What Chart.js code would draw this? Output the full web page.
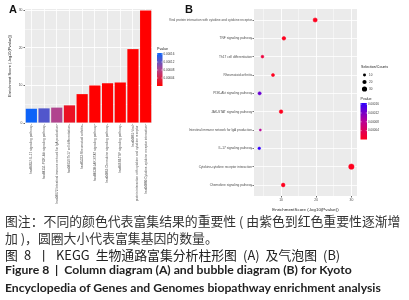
<!DOCTYPE html>
<html>
<head>
<meta charset="utf-8">
<script src="https://cdn.jsdelivr.net/npm/chart.js@4.4.1/dist/chart.umd.min.js"></script>
<style>
  body { margin: 0; background: #fff; width: 409px; height: 300px; overflow: hidden; position: relative; }
  canvas { position: absolute; top: 0; }
  #barChart { left: 0; }
  #bubbleChart { left: 165px; }
  .tag { position: absolute; font: bold 11px "Liberation Sans", Arial, sans-serif; color: #111; }
  .cap { position: absolute; left: 5px; white-space: nowrap; line-height: 17px; }
  .cn { font: 12.85px "Noto Sans CJK SC", sans-serif; color: #333; }
  .en { font: bold 12.2px Lato, "Noto Sans", sans-serif; color: #222; }
</style>
</head>
<body>
<canvas id="barChart" width="200" height="212"></canvas>
<canvas id="bubbleChart" width="244" height="212"></canvas>
<div class="tag" style="left:9px; top:3px;">A</div>
<div class="tag" style="left:185px; top:3px;">B</div>
<div class="cap cn" style="top:211px;">图注：不同的颜色代表富集结果的重要性 ( 由紫色到红色重要性逐渐增</div>
<div class="cap cn" style="top:228px;">加 )，圆圈大小代表富集基因的数量。</div>
<div class="cap cn" style="top:245px; color:#222; word-spacing:3.2px;">图 8 丨 KEGG 生物通路富集分析柱形图 (A) 及气泡图 (B)</div>
<div class="cap en" style="top:262px;">Figure 8 &nbsp;| &nbsp;Column diagram (A) and bubble diagram (B) for Kyoto</div>
<div class="cap en" style="top:280px;">Encyclopedia of Genes and Genomes biopathway enrichment analysis</div>
<script>
// 通路数据 (按柱形图顺序, 从小到大)
const keggIds = ['hsa04657', 'hsa04151', 'hsa04672', 'hsa04659', 'hsa05323',
    'hsa04630', 'hsa04062', 'hsa04668', 'hsa04061', 'hsa04060'];
const pathways = ['IL-17 signaling pathway', 'PI3K-Akt signaling pathway',
    'Intestinal immune network for IgA production', 'Th17 cell differentiation',
    'Rheumatoid arthritis', 'JAK-STAT signaling pathway', 'Chemokine signaling pathway',
    'TNF signaling pathway', 'Viral protein interaction with cytokine and cytokine receptor',
    'Cytokine-cytokine receptor interaction'];
const scores = [3.8, 3.9, 4.1, 4.7, 7.7, 10.0, 10.6, 10.8, 19.7, 30.0];
const counts = [8, 12, 5, 9, 11, 15, 16, 15, 20, 33];
// 气泡图 y 轴顺序 (从上到下)
const bubbleTerms = ['Viral protein interaction with cytokine and cytokine receptor',
    'TNF signaling pathway', 'Th17 cell differentiation', 'Rheumatoid arthritis',
    'PI3K-Akt signaling pathway', 'JAK-STAT signaling pathway',
    'Intestinal immune network for IgA production', 'IL-17 signaling pathway',
    'Cytokine-cytokine receptor interaction', 'Chemokine signaling pathway'];
const pLegendTicks = [0.00016, 0.00012, 0.00008, 0.00004];
const countLegend = [10, 20, 30];

const FONT = '"Liberation Sans", Arial, sans-serif';
const pMax = 0.00016;

const mix = (stops, t) => {
    t = Math.max(0, Math.min(1, t));
    for (let i = 1; i < stops.length; i++) {
        if (t <= stops[i][0]) {
            const [t0, c0] = stops[i - 1], [t1, c1] = stops[i];
            const u = (t - t0) / (t1 - t0);
            return `rgb(${c0.map((v, k) => Math.round(v + (c1[k] - v) * u)).join(',')})`;
        }
    }
    return `rgb(${stops[stops.length - 1][1].join(',')})`;
};
const stopsA = [[0, [255, 0, 0]], [0.5, [176, 68, 143]], [1, [10, 100, 250]]];
const stopsB = [[0, [255, 0, 30]], [0.5, [185, 0, 150]], [1, [45, 0, 255]]];
const pOf = s => Math.pow(10, -s);

// 灰色面板背景
const panelBg = {
    id: 'panelBg',
    beforeDraw(chart) {
        const {ctx, chartArea: a} = chart;
        ctx.save();
        ctx.fillStyle = '#ebebeb';
        ctx.fillRect(a.left, a.top, a.right - a.left, a.bottom - a.top);
        ctx.restore();
    }
};

const drawColorbar = (ctx, stops, x, top, w, h, title, titleY) => {
    const g = ctx.createLinearGradient(0, top, 0, top + h);
    for (let i = 0; i <= 10; i++) g.addColorStop(i / 10, mix(stops, 1 - i / 10));
    ctx.fillStyle = g;
    ctx.fillRect(x, top, w, h);
    ctx.font = `3.6px ${FONT}`;
    ctx.fillStyle = '#222';
    ctx.textBaseline = 'middle';
    ctx.fillText(title, x, titleY);
    ctx.font = `3px ${FONT}`;
    pLegendTicks.forEach(p => {
        const y = top + h * (1 - p / 0.000165);
        ctx.strokeStyle = '#fff';
        ctx.lineWidth = 0.5;
        ctx.beginPath();
        ctx.moveTo(x, y); ctx.lineTo(x + 1.2, y);
        ctx.moveTo(x + w - 1.2, y); ctx.lineTo(x + w, y);
        ctx.stroke();
        ctx.fillStyle = '#333';
        ctx.fillText(p.toFixed(5), x + w + 1, y);
    });
};

const legendA = {
    id: 'legendA',
    afterDraw(chart) {
        const ctx = chart.ctx;
        ctx.save();
        drawColorbar(ctx, stopsA, 157, 53, 5.5, 33, 'Pvalue', 49);
        ctx.restore();
    }
};

const legendB = {
    id: 'legendB',
    afterDraw(chart) {
        const ctx = chart.ctx;
        ctx.save();
        const x0 = 196;
        ctx.font = `3.6px ${FONT}`;
        ctx.fillStyle = '#222';
        ctx.textBaseline = 'middle';
        ctx.fillText('Selection/Counts', x0, 67);
        countLegend.forEach((c, i) => {
            const y = 75 + i * 7;
            ctx.fillStyle = '#000';
            ctx.beginPath();
            ctx.arc(x0 + 3.5, y, 0.47 * Math.sqrt(c), 0, Math.PI * 2);
            ctx.fill();
            ctx.font = `3px ${FONT}`;
            ctx.fillStyle = '#333';
            ctx.fillText(String(c), x0 + 8, y);
        });
        drawColorbar(ctx, stopsB, x0 - 0.5, 103, 6.5, 36.5, 'Pvalue', 99);
        ctx.restore();
    }
};

// 柱形图
const barLabels = keggIds.map((id, i) => {
    const text = `${id}:${pathways[i]}`;
    return text.length > 60 ? [`${id}:Viral`, pathways[i].replace('Viral ', '')] : text;
});
new Chart(document.getElementById('barChart').getContext('2d'), {
    type: 'bar',
    data: {
        labels: barLabels,
        datasets: [{
            data: scores,
            backgroundColor: scores.map(s => mix(stopsA, pOf(s) / pMax)),
            barPercentage: 0.88,
            categoryPercentage: 1
        }]
    },
    options: {
        responsive: false,
        animation: false,
        layout: {padding: {top: 9, right: 48, left: 7, bottom: 0}},
        plugins: {legend: {display: false}, tooltip: {enabled: false}},
        scales: {
            x: {
                grid: {offset: false, color: '#fff', lineWidth: 0.8, tickColor: '#555', tickLength: 1.5},
                border: {display: false},
                ticks: {autoSkip: false, minRotation: 90, maxRotation: 90, padding: 1,
                    color: '#4d4d4d', font: {family: FONT, size: 3.2}},
                afterFit: s => { s.height = 89; }
            },
            y: {
                min: 0,
                max: 30.4,
                afterBuildTicks: s => { s.ticks = [0, 5, 10, 15, 20, 25, 30].map(v => ({value: v})); },
                grid: {
                    color: '#fff',
                    lineWidth: c => (c.tick && c.tick.value % 10 === 0) ? 0.9 : 0.45,
                    tickColor: c => (c.tick && c.tick.value % 10 === 0) ? '#555' : 'rgba(0,0,0,0)',
                    tickLength: 1.5
                },
                border: {display: false},
                ticks: {padding: 1, color: '#4d4d4d', font: {family: FONT, size: 3.4},
                    callback: v => v % 10 === 0 ? v : ''},
                title: {display: true, text: 'Enrichment Score (-log10(Pvalue))', color: '#222',
                    padding: 0, font: {family: FONT, size: 4}},
                afterFit: s => { s.width = 18; }
            }
        }
    },
    plugins: [panelBg, legendA]
});

// 气泡图
const bubbleData = pathways.map((name, i) => ({
    x: scores[i],
    y: bubbleTerms.indexOf(name) + 1,
    r: 0.47 * Math.sqrt(counts[i])
}));
const bubbleColors = scores.map(s => mix(stopsB, pOf(s) / pMax));
new Chart(document.getElementById('bubbleChart').getContext('2d'), {
    type: 'bubble',
    data: {
        datasets: [{
            data: bubbleData,
            backgroundColor: bubbleColors,
            borderColor: bubbleColors,
            borderWidth: 0.5
        }]
    },
    options: {
        responsive: false,
        animation: false,
        clip: false,
        layout: {padding: {top: 9, right: 52, left: 0, bottom: 0}},
        plugins: {legend: {display: false}, tooltip: {enabled: false}},
        scales: {
            x: {
                type: 'linear',
                min: 2.3,
                max: 31.6,
                afterBuildTicks: s => { s.ticks = [5, 10, 15, 20, 25, 30].map(v => ({value: v})); },
                grid: {
                    color: '#fff',
                    lineWidth: c => (c.tick && c.tick.value % 10 === 0) ? 0.9 : 0.45,
                    tickColor: c => (c.tick && c.tick.value % 10 === 0) ? '#555' : 'rgba(0,0,0,0)',
                    tickLength: 1.5
                },
                border: {display: false},
                ticks: {padding: 0.5, color: '#4d4d4d', font: {family: FONT, size: 3.4},
                    callback: v => v % 10 === 0 ? v : ''},
                title: {display: true, text: 'EnrichmentScore (-log10(Pvalue))', color: '#222',
                    padding: 0, font: {family: FONT, size: 4.4}},
                afterFit: s => { s.height = 16; }
            },
            y: {
                type: 'linear',
                reverse: true,
                min: 0.4,
                max: 10.6,
                afterBuildTicks: s => { s.ticks = bubbleTerms.map((t, i) => ({value: i + 1})); },
                grid: {color: '#fff', lineWidth: 0.8, tickColor: '#555', tickLength: 1.5},
                border: {display: false},
                ticks: {padding: 0.5, color: '#4d4d4d', font: {family: FONT, size: 3.2},
                    callback: v => bubbleTerms[v - 1]},
                afterFit: s => { s.width = 89; }
            }
        }
    },
    plugins: [panelBg, legendB]
});
</script>
</body>
</html>
